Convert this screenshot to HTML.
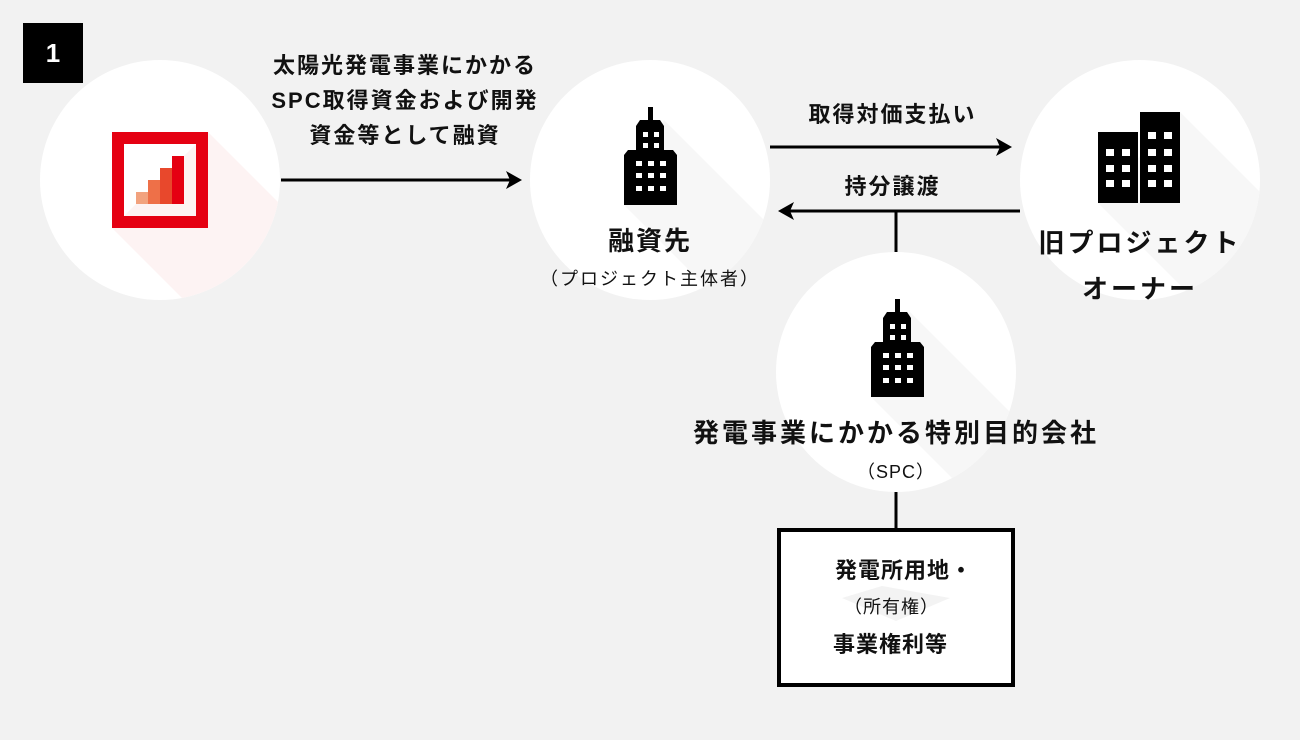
<!DOCTYPE html>
<html><head><meta charset="utf-8"><style>
html,body{margin:0;padding:0}
body{width:1300px;height:740px;background:#f2f2f2;position:relative;overflow:hidden;font-family:"Liberation Sans","Noto Sans CJK JP",sans-serif;color:#111}
.t{position:absolute;white-space:nowrap;text-align:center;font-weight:bold}
.s{position:absolute;white-space:nowrap;text-align:center;font-weight:normal}
</style></head><body>
<svg width="1300" height="740" style="position:absolute;left:0;top:0">
<defs>
<clipPath id="c1"><circle cx="160" cy="180" r="120"/></clipPath>
<clipPath id="c2"><circle cx="650" cy="180" r="120"/></clipPath>
<clipPath id="c3"><circle cx="1140" cy="180" r="120"/></clipPath>
<clipPath id="c4"><circle cx="896" cy="372" r="120"/></clipPath>
</defs>
<rect x="23" y="23" width="60" height="60" fill="#000"/>
<circle cx="160" cy="180" r="120" fill="#fff"/>
<circle cx="650" cy="180" r="120" fill="#fff"/>
<circle cx="1140" cy="180" r="120" fill="#fff"/>
<circle cx="896" cy="372" r="120" fill="#fff"/>
<g clip-path="url(#c1)"><polygon points="208,132 508,432 412,528 112,228" fill="#fdf3f3"/></g>
<g clip-path="url(#c2)"><polygon points="664,120 964,420 924,505 624,205" fill="#f7f7f7"/></g>
<g clip-path="url(#c3)"><polygon points="1180,112 1480,412 1398,503 1098,203" fill="#f7f7f7"/></g>
<g clip-path="url(#c4)"><polygon points="910,312 1210,612 1171,697 871,397" fill="#f7f7f7"/></g>
<!-- red logo -->
<rect x="118" y="138" width="84" height="84" fill="none" stroke="#e50012" stroke-width="12"/>
<rect x="136" y="192" width="12" height="12" fill="#f2a27e"/>
<rect x="148" y="180" width="12" height="24" fill="#ee7048"/>
<rect x="160" y="168" width="12" height="36" fill="#e8482c"/>
<rect x="172" y="156" width="12" height="48" fill="#e50012"/>
<!-- tall building -->
<g id="b1">
<rect x="648" y="107" width="5" height="14" fill="#000"/>
<polygon points="640,120 660,120 664,126 664,150 636,150 636,126" fill="#000"/>
<polygon points="628,150 673,150 677,155 677,205 624,205 624,155" fill="#000"/>
<g fill="#fff">
<rect x="643" y="132" width="5" height="5"/><rect x="654" y="132" width="5" height="5"/>
<rect x="643" y="143" width="5" height="5"/><rect x="654" y="143" width="5" height="5"/>
<rect x="636" y="161" width="6" height="5"/><rect x="648" y="161" width="6" height="5"/><rect x="660" y="161" width="6" height="5"/>
<rect x="636" y="173" width="6" height="5"/><rect x="648" y="173" width="6" height="5"/><rect x="660" y="173" width="6" height="5"/>
<rect x="636" y="186" width="6" height="5"/><rect x="648" y="186" width="6" height="5"/><rect x="660" y="186" width="6" height="5"/>
</g></g>
<use href="#b1" transform="translate(247,192)"/>
<!-- two buildings -->
<rect x="1098" y="132" width="40" height="71" fill="#000"/>
<rect x="1140" y="112" width="40" height="91" fill="#000"/>
<g fill="#fff">
<rect x="1106" y="149" width="8" height="7"/><rect x="1122" y="149" width="8" height="7"/>
<rect x="1106" y="165" width="8" height="7"/><rect x="1122" y="165" width="8" height="7"/>
<rect x="1106" y="180" width="8" height="7"/><rect x="1122" y="180" width="8" height="7"/>
<rect x="1148" y="132" width="8" height="7"/><rect x="1164" y="132" width="8" height="7"/>
<rect x="1148" y="149" width="8" height="7"/><rect x="1164" y="149" width="8" height="7"/>
<rect x="1148" y="165" width="8" height="7"/><rect x="1164" y="165" width="8" height="7"/>
<rect x="1148" y="180" width="8" height="7"/><rect x="1164" y="180" width="8" height="7"/>
</g>
<!-- arrows -->
<g stroke="#000" stroke-width="3" fill="none">
<line x1="281" y1="180" x2="518" y2="180"/>
<line x1="770" y1="147" x2="1008" y2="147"/>
<line x1="1020" y1="211" x2="782" y2="211"/>
<line x1="896" y1="211" x2="896" y2="252"/>
<line x1="896" y1="492" x2="896" y2="529"/>
</g>
<g fill="#000">
<polygon points="522,180 506,171 510,180 506,189"/>
<polygon points="1012,147 996,138 1000,147 996,156"/>
<polygon points="778,211 794,202 790,211 794,220"/>
</g>
<rect x="779" y="530" width="234" height="155" fill="#fff" stroke="#000" stroke-width="4"/>
<polygon points="882,586 950,598 896,621 842,598" fill="#f3f3f3"/>
</svg>
<div class="t" style="left:23px;top:33px;width:60px;font-size:26px;line-height:40px;color:#fff">1</div>
<div class="t" style="left:245px;top:48px;width:320px;font-size:22px;line-height:35px;letter-spacing:2px">太陽光発電事業にかかる<br>SPC取得資金および開発<br>資金等として融資</div>
<div class="t" style="left:770px;top:100px;width:245px;font-size:22px;line-height:30px;letter-spacing:2px">取得対価支払い</div>
<div class="t" style="left:770px;top:172px;width:245px;font-size:22px;line-height:30px;letter-spacing:2px">持分譲渡</div>
<div class="t" style="left:530px;top:223px;width:240px;font-size:26px;line-height:36px;letter-spacing:2px">融資先</div>
<div class="s" style="left:520px;top:266px;width:260px;font-size:18px;line-height:26px;letter-spacing:2px">（プロジェクト主体者）</div>
<div class="t" style="left:1020px;top:220px;width:240px;font-size:26px;line-height:46px;letter-spacing:3px">旧プロジェクト<br>オーナー</div>
<div class="t" style="left:640px;top:415px;width:512px;font-size:26px;line-height:36px;letter-spacing:3px">発電事業にかかる特別目的会社</div>
<div class="s" style="left:796px;top:459px;width:200px;font-size:18px;line-height:26px;letter-spacing:1px">（SPC）</div>
<div class="t" style="left:800px;top:556px;width:220px;font-size:22px;line-height:30px;letter-spacing:1px;text-align:left;padding-left:35px;box-sizing:border-box">発電所用地・</div>
<div class="s" style="left:800px;top:593px;width:200px;font-size:18px;line-height:28px;letter-spacing:1px;text-align:left;padding-left:44px;box-sizing:border-box">（所有権）</div>
<div class="t" style="left:800px;top:630px;width:220px;font-size:22px;line-height:30px;letter-spacing:1px;text-align:left;padding-left:33px;box-sizing:border-box">事業権利等</div>
</body></html>
